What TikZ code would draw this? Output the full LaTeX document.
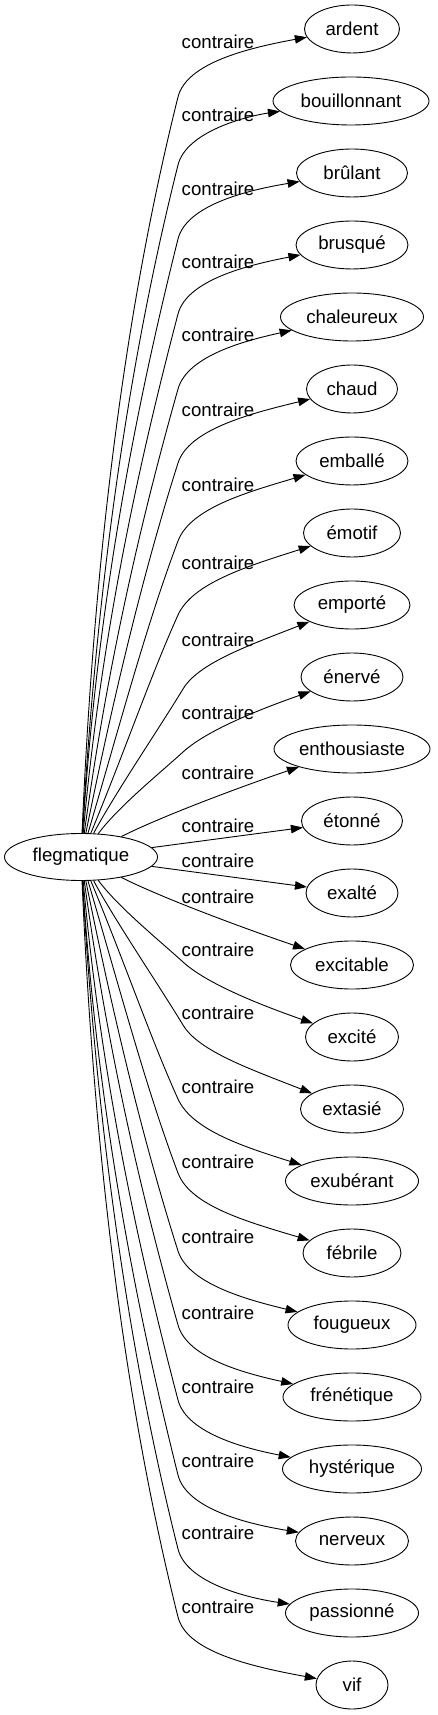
\documentclass[tikz,border=0pt]{standalone}
\usepackage{fontspec}
\setmainfont{Liberation Sans}
\usetikzlibrary{arrows.meta,shapes.geometric}
\begin{document}
\begin{tikzpicture}[x=1pt,y=1pt,
  every node/.style={font=\fontsize{18.67}{22}\selectfont},
  word/.style={draw, ellipse, inner sep=0pt, minimum height=48pt, line width=0.9pt},
  lbl/.style={inner sep=0pt},
  edge/.style={draw, line width=0.9pt, -{Triangle[length=12pt,width=8.5pt]}}
]
\useasboundingbox (0,-858) rectangle (437,857);
\node[word, minimum width=153pt, minimum height=47pt] (fleg) at (81,0) {flegmatique};
\node[word, minimum width=95pt]  (n0)  at (352,828)  {ardent};
\node[word, minimum width=156pt] (n1)  at (351,756)  {bouillonnant};
\node[word, minimum width=111pt] (n2)  at (352,684)  {brûlant};
\node[word, minimum width=112pt] (n3)  at (352,612)  {brusqué};
\node[word, minimum width=143pt] (n4)  at (352,540)  {chaleureux};
\node[word, minimum width=91pt]  (n5)  at (352,468)  {chaud};
\node[word, minimum width=112pt] (n6)  at (352,396)  {emballé};
\node[word, minimum width=97pt]  (n7)  at (352,324)  {émotif};
\node[word, minimum width=116pt] (n8)  at (352,252)  {emporté};
\node[word, minimum width=102pt] (n9)  at (352,180)  {énervé};
\node[word, minimum width=156pt] (n10) at (352,108)  {enthousiaste};
\node[word, minimum width=101pt] (n11) at (352,36)   {étonné};
\node[word, minimum width=92pt]  (n12) at (352,-36)  {exalté};
\node[word, minimum width=123pt] (n13) at (352,-108) {excitable};
\node[word, minimum width=93pt]  (n14) at (352,-180) {excité};
\node[word, minimum width=103pt] (n15) at (352,-252) {extasié};
\node[word, minimum width=133pt] (n16) at (352,-324) {exubérant};
\node[word, minimum width=98pt]  (n17) at (352,-396) {fébrile};
\node[word, minimum width=128pt] (n18) at (352,-468) {fougueux};
\node[word, minimum width=138pt] (n19) at (352,-540) {frénétique};
\node[word, minimum width=139pt] (n20) at (352,-612) {hystérique};
\node[word, minimum width=113pt] (n21) at (352,-684) {nerveux};
\node[word, minimum width=133pt] (n22) at (352,-756) {passionné};
\node[word, minimum width=72pt]  (n23) at (352,-828) {vif};
% labels
\node[lbl] (c0)  at (218,815)  {contraire};
\node[lbl] (c1)  at (218,742)  {contraire};
\node[lbl] (c2)  at (218,668)  {contraire};
\node[lbl] (c3)  at (218,595)  {contraire};
\node[lbl] (c4)  at (218,522)  {contraire};
\node[lbl] (c5)  at (218,447)  {contraire};
\node[lbl] (c6)  at (218,372)  {contraire};
\node[lbl] (c7)  at (218,294)  {contraire};
\node[lbl] (c8)  at (218,217)  {contraire};
\node[lbl] (c9)  at (218,144)  {contraire};
\node[lbl] (c10) at (218,84)   {contraire};
\node[lbl] (c11) at (218,31)   {contraire};
\node[lbl] (c12) at (218,-4)   {contraire};
\node[lbl] (c13) at (218,-40)  {contraire};
\node[lbl] (c14) at (218,-93)  {contraire};
\node[lbl] (c15) at (218,-156) {contraire};
\node[lbl] (c16) at (218,-230) {contraire};
\node[lbl] (c17) at (218,-305) {contraire};
\node[lbl] (c18) at (218,-380) {contraire};
\node[lbl] (c19) at (218,-456) {contraire};
\node[lbl] (c20) at (218,-530) {contraire};
\node[lbl] (c21) at (218,-604) {contraire};
\node[lbl] (c22) at (218,-676) {contraire};
\node[lbl] (c23) at (218,-750) {contraire};
% edges, upper
\draw[edge] (fleg) .. controls (94.5,311) and (126.5,554) .. (178,760) .. controls (186.5,794) and (248,809) .. (n0);
\draw[edge] (fleg) .. controls (97.5,284.5) and (131,505) .. (178,692) .. controls (186.5,726) and (248,741) .. (n1);
\draw[edge] (fleg) .. controls (97.5,256) and (136.5,452) .. (178,618) .. controls (186.5,652) and (248,667) .. (n2);
\draw[edge] (fleg) .. controls (101.5,226) and (140,398) .. (178,543) .. controls (186.9,577) and (248,592) .. (n3);
\draw[edge] (fleg) .. controls (108,197) and (143,344) .. (178,468) .. controls (187.5,502) and (248,517) .. (n4);
\draw[edge] (fleg) .. controls (115,168) and (145,290) .. (178,394) .. controls (188.6,427) and (248,443) .. (n5);
\draw[edge] (fleg) .. controls (121.5,138) and (147,234) .. (178,316) .. controls (190.4,349) and (248,365) .. (n6);
\draw[edge] (fleg) .. controls (126,109) and (150.5,181) .. (178,242) .. controls (192.4,274) and (248,291) .. (n7);
\draw[edge] (fleg) .. controls (114,62) and (160,130) .. (183,168) .. controls (198.5,194) and (250,212) .. (n8);
\draw[edge] (fleg) .. controls (118,50) and (160,84) .. (183,105) .. controls (205,125) and (252,145) .. (n9);
\draw[edge] (fleg) .. controls (160,40) and (240,70) .. (n10);
\draw[edge] (fleg) -- (n11);
% edges, lower
\draw[edge] (fleg) -- (n12);
\draw[edge] (fleg) .. controls (160,-40) and (240,-70) .. (n13);
\draw[edge] (fleg) .. controls (118,-50) and (160,-84) .. (183,-105) .. controls (205,-125) and (252,-145) .. (n14);
\draw[edge] (fleg) .. controls (114,-62) and (160,-130) .. (183,-168) .. controls (198.5,-194) and (250,-212) .. (n15);
\draw[edge] (fleg) .. controls (126,-109) and (150.5,-181) .. (178,-242) .. controls (192.4,-274) and (248,-291) .. (n16);
\draw[edge] (fleg) .. controls (121.5,-138) and (147,-234) .. (178,-316) .. controls (190.4,-349) and (248,-365) .. (n17);
\draw[edge] (fleg) .. controls (115,-168) and (145,-290) .. (178,-394) .. controls (188.6,-427) and (248,-443) .. (n18);
\draw[edge] (fleg) .. controls (108,-197) and (143,-344) .. (178,-468) .. controls (187.5,-502) and (248,-517) .. (n19);
\draw[edge] (fleg) .. controls (101.5,-226) and (140,-398) .. (178,-543) .. controls (186.9,-577) and (248,-592) .. (n20);
\draw[edge] (fleg) .. controls (97.5,-256) and (136.5,-452) .. (178,-618) .. controls (186.5,-652) and (248,-667) .. (n21);
\draw[edge] (fleg) .. controls (97.5,-284.5) and (131,-505) .. (178,-692) .. controls (186.5,-726) and (248,-741) .. (n22);
\draw[edge] (fleg) .. controls (94.5,-311) and (126.5,-554) .. (178,-760) .. controls (186.5,-794) and (248,-809) .. (n23);
\end{tikzpicture}
\end{document}
